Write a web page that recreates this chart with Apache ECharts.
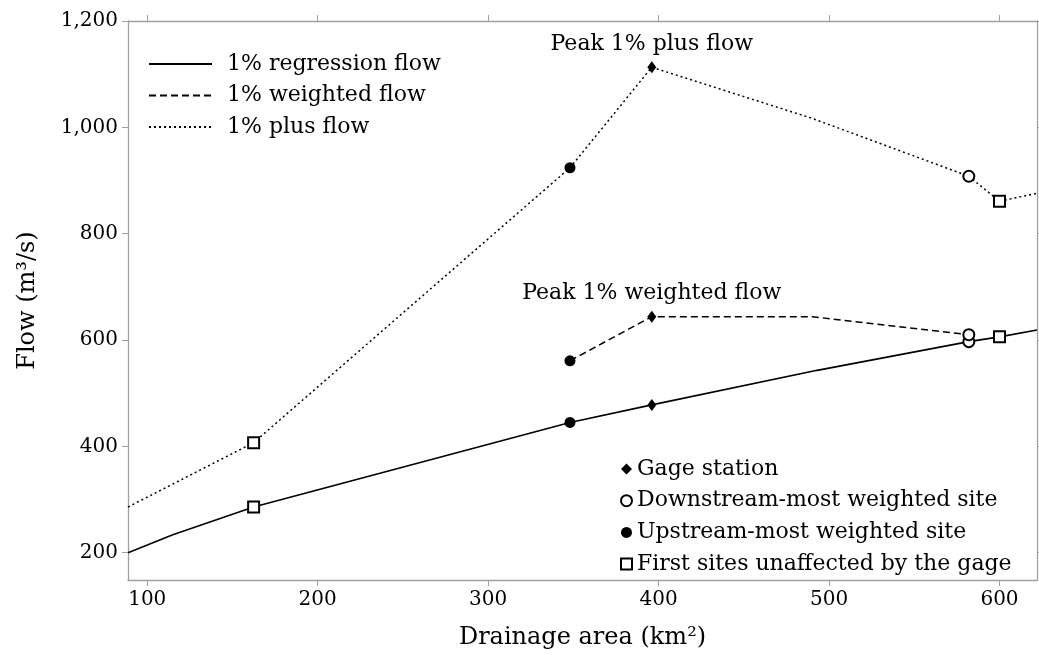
<!DOCTYPE html>
<html>
<head>
<meta charset="utf-8">
<title>Flow vs drainage area</title>
<script src="https://cdn.jsdelivr.net/npm/echarts@6/dist/echarts.min.js"></script>
<style>
  html, body { margin: 0; padding: 0; background: #fff; }
  #chart { width: 1039px; height: 655px; }
</style>
</head>
<body>
<div id="chart"></div>
<script>
// axis ticks
var xTicks = [100, 200, 300, 400, 500, 600];
var yTicks = [200, 400, 600, 800, 1000, 1200];

// 1% regression flow
var regX = [88.7, 115, 162.4, 348, 396, 493, 582, 600, 622];
var regY = [200, 234, 286, 445, 478, 543, 597, 606, 619];

// 1% weighted flow
var wgtX = [348, 396, 490, 582];
var wgtY = [561, 644, 644, 610];

// 1% plus flow
var plusX = [88.7, 162.4, 348, 396, 490, 582, 600, 622];
var plusY = [286, 407, 924, 1113, 1017, 908, 861, 876];

// site markers
var gageX = [396, 396, 396];
var gageY = [478, 644, 1113];
var gageNotes = ['', 'Peak 1% weighted flow', 'Peak 1% plus flow'];
var downX = [582, 582, 582];
var downY = [597, 610, 908];
var upX = [348, 348, 348];
var upY = [445, 561, 924];
var firstX = [162.4, 162.4, 600, 600];
var firstY = [286, 407, 606, 861];

var FONT = 'DejaVu Serif';
var AXIS_GREY = '#a0a0a0';

function pairs(xs, ys) {
    return xs.map(function (x, i) { return [x, ys[i]]; });
}

var chart = echarts.init(document.getElementById('chart'));

var frameAxis = {
    axisLine: { show: true, lineStyle: { color: AXIS_GREY, width: 1.3 } },
    axisTick: { show: true, length: 6, lineStyle: { color: AXIS_GREY, width: 1 } },
    splitLine: { show: false }
};

var option = {
    backgroundColor: '#fff',
    animation: false,
    textStyle: { fontFamily: FONT, color: '#000' },
    grid: { left: 128, right: 2, top: 21, bottom: 73 },
    xAxis: [
        Object.assign({}, frameAxis, {
            type: 'value', position: 'bottom', min: 88.7, max: 622,
            axisTick: Object.assign({}, frameAxis.axisTick, { customValues: xTicks }),
            axisLabel: { customValues: xTicks, fontSize: 20, fontFamily: FONT, color: '#000', margin: 10 },
            name: 'Drainage area (km²)', nameLocation: 'middle', nameGap: 46,
            nameTextStyle: { fontSize: 24, fontFamily: FONT, color: '#000' }
        }),
        Object.assign({}, frameAxis, {
            type: 'value', position: 'top', min: 88.7, max: 622,
            axisTick: Object.assign({}, frameAxis.axisTick, { customValues: xTicks }),
            axisLabel: { show: false }
        })
    ],
    yAxis: [
        Object.assign({}, frameAxis, {
            type: 'value', position: 'left', min: 148.7, max: 1200,
            axisTick: Object.assign({}, frameAxis.axisTick, { customValues: yTicks }),
            axisLabel: {
                customValues: yTicks, fontSize: 20, fontFamily: FONT, color: '#000', margin: 10,
                formatter: function (v) { return v.toLocaleString('en-US'); }
            },
            name: 'Flow (m³/s)', nameLocation: 'middle', nameGap: 88,
            nameTextStyle: { fontSize: 24, fontFamily: FONT, color: '#000' }
        }),
        Object.assign({}, frameAxis, {
            type: 'value', position: 'right', min: 148.7, max: 1200,
            axisTick: Object.assign({}, frameAxis.axisTick, { customValues: yTicks }),
            axisLabel: { show: false }
        })
    ],
    legend: [
        {
            data: ['1% regression flow', '1% weighted flow', '1% plus flow'],
            orient: 'vertical', left: 143, top: 48,
            itemWidth: 63, itemHeight: 14, itemGap: 9.5,
            itemStyle: { opacity: 0 },
            textStyle: { fontSize: 22, lineHeight: 22, fontFamily: FONT, color: '#000', padding: [0, 0, 0, 10] }
        },
        {
            data: ['Gage station', 'Downstream-most weighted site', 'Upstream-most weighted site', 'First sites unaffected by the gage'],
            orient: 'vertical', left: 615, top: 453,
            itemWidth: 11, itemHeight: 11, itemGap: 9.7,
            textStyle: { fontSize: 22, lineHeight: 22, fontFamily: FONT, color: '#000', padding: [0, 0, 0, 0] }
        }
    ],
    series: [
        {
            name: '1% regression flow', type: 'line', symbol: 'none',
            data: pairs(regX, regY),
            lineStyle: { color: '#000', width: 1.6, type: 'solid' },
            itemStyle: { color: '#000' }, z: 2
        },
        {
            name: '1% weighted flow', type: 'line', symbol: 'none',
            data: pairs(wgtX, wgtY),
            lineStyle: { color: '#000', width: 1.5, type: [7, 4] },
            itemStyle: { color: '#000' }, z: 2
        },
        {
            name: '1% plus flow', type: 'line', symbol: 'none',
            data: pairs(plusX, plusY),
            lineStyle: { color: '#000', width: 1.5, type: [2, 3] },
            itemStyle: { color: '#000' }, z: 2
        },
        {
            name: 'Gage station', type: 'scatter', symbol: 'diamond', symbolSize: [9, 12],
            itemStyle: { color: '#000', opacity: 1 }, z: 5,
            data: gageX.map(function (x, i) {
                return {
                    value: [x, gageY[i]],
                    label: {
                        show: gageNotes[i] !== '', formatter: gageNotes[i], position: 'top', distance: 6,
                        fontSize: 22, fontFamily: FONT, color: '#000'
                    }
                };
            })
        },
        {
            name: 'Downstream-most weighted site', type: 'scatter', symbol: 'emptyCircle', symbolSize: 11,
            itemStyle: { color: '#000', borderColor: '#000', borderWidth: 1.2, opacity: 1 }, z: 5,
            data: pairs(downX, downY)
        },
        {
            name: 'Upstream-most weighted site', type: 'scatter', symbol: 'circle', symbolSize: 11,
            itemStyle: { color: '#000', opacity: 1 }, z: 5,
            data: pairs(upX, upY)
        },
        {
            name: 'First sites unaffected by the gage', type: 'scatter', symbol: 'emptyRect', symbolSize: 11,
            itemStyle: { color: '#000', borderColor: '#000', borderWidth: 1.2, opacity: 1 }, z: 5,
            data: pairs(firstX, firstY)
        }
    ]
};

chart.setOption(option);
</script>
</body>
</html>
